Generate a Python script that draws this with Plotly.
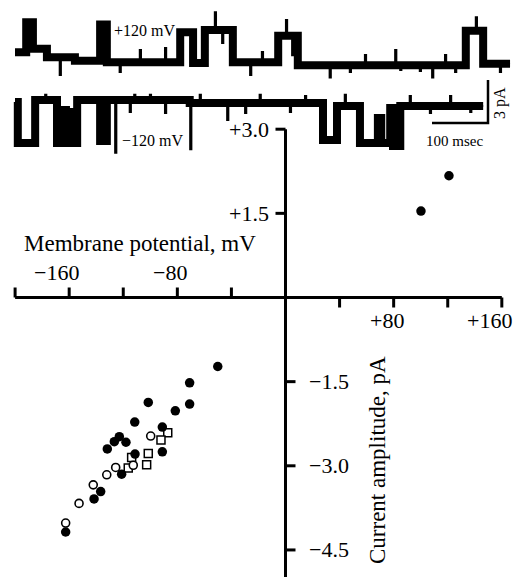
import plotly.graph_objects as go

W, H = 517, 577
FONT = "Liberation Serif"

# ---------------- I-V data (membrane potential mV, current pA) ----------------
filled_mv = [100.2, 120.9, -50.1, -70.9, -70.9, -81.5, -101.5, -111.5, -91.1, -91.1,
             -122.9, -126.6, -118.0, -131.8, -111.3, -121.2, -136.7, -141.6, -162.6]
filled_pa = [1.54, 2.17, -1.23, -1.52, -1.90, -2.02, -1.87, -2.22, -2.31, -2.75,
             -2.48, -2.57, -2.58, -2.70, -2.79, -3.15, -3.46, -3.59, -4.18]

open_circ_mv = [-99.7, -112.6, -125.6, -132.2, -142.2, -152.7, -162.6]
open_circ_pa = [-2.47, -2.99, -3.03, -3.16, -3.34, -3.67, -4.02]

open_sq_mv = [-87.1, -92.1, -101.5, -102.7, -113.8, -116.3]
open_sq_pa = [-2.41, -2.54, -2.78, -2.98, -2.85, -3.04]

# axis ticks
x_ticks_neg = [-200, -160, -120, -80, -40]
x_ticks_pos = [40, 80, 120, 160]
x_tick_labels = {-160: "\u2212160", -80: "\u221280", 80: "+80", 160: "+160"}
y_ticks_pos = [3.0, 1.5]
y_ticks_neg = [-1.5, -3.0, -4.5]
y_tick_labels = {3.0: "+3.0", 1.5: "+1.5", -1.5: "\u22121.5", -3.0: "\u22123.0", -4.5: "\u22124.5"}

# ---------------- single-channel records (time ms, current pA) ----------------
top_t = [0, 20, 32, 57, 107, 152, 164, 295, 318, 339, 389, 470, 505, 805, 836]
top_i = [0.75, 2.85, 1.0, 0.4, 0.15, 2.7, 0.05, 2.15, 0.0, 2.3, 0.05, 1.9, -0.15, 2.25, -0.05]
top_end = 884
top_spike_t = [80, 187, 223, 268, 357, 370, 420, 441, 484, 495, 562, 598, 625, 679,
               688, 723, 745, 768, 786, 823, 866]
top_spike_i = [-0.84, -0.63, 0.91, 1.05, 3.55, 1.4, -0.84, 0.77, 3.0, 0.55, -1.0, -0.63, 0.56, 0.91,
               -0.49, -0.56, -1.0, 0.56, -0.63, 3.2, -0.63]

bot_t = [0, 5, 36, 75, 87, 91, 95, 98, 111, 152, 164, 312, 550, 575, 616, 648, 654, 670, 675, 688]
bot_i = [0.0, -2.87, 0.14, -2.87, -0.56, -2.87, -0.7, -2.87, 0.14, -2.73, 0.14, -0.07,
         -2.66, -0.28, -2.87, -1.12, -2.87, -0.42, -3.08, -0.28]
bot_end = 836
bot_spike_t = [54, 159, 179, 205, 213, 241, 268, 313, 330, 379, 411, 437, 491, 518,
               589, 705, 741, 777, 813]
bot_spike_i = [0.5, -1.1, -3.55, -0.7, 0.5, 0.5, -0.77, -3.3, 0.5, -1.25, -0.77, 0.5, -0.7, 0.42,
               0.5, 0.42, -0.77, 0.42, -0.7]

scale_ms = 100
scale_pa = 3

# ---------------- geometry (pixel calibration) ----------------
X0, XS = 285.5, 1.352     # px of 0 mV, px per mV
Y0, YS = 297.5, 56.1      # px of 0 pA, px per pA
xr = [-X0 / XS, (W - X0) / XS]
yr = [-(H - Y0) / YS, Y0 / YS]

T0, TS = 15, 0.56         # trace: px of t=0, px per ms
I0, IS = 102, 14.3        # trace: px of bottom baseline, px per pA
x2r = [-T0 / TS, (W - T0) / TS]
y2r = [-(H - I0) / IS, I0 / IS]
top_offset = (I0 - 63) / IS


def steps(ts, lv, end, sp_t, sp_i, dur=1.8):
    ev = list(zip(ts, lv))
    for st, si in zip(sp_t, sp_i):
        base = [l for t, l in zip(ts, lv) if t <= st][-1]
        ev.append((st, si))
        ev.append((st + dur, base))
    ev.sort(key=lambda e: e[0])
    xs = [e[0] for e in ev] + [end]
    ys = [e[1] for e in ev] + [ev[-1][1]]
    return xs, ys


fig = go.Figure()

# records: thick band + thin detail line
for ts, lv, end, st, si, off in [
    (top_t, top_i, top_end, top_spike_t, top_spike_i, top_offset),
    (bot_t, bot_i, bot_end, bot_spike_t, bot_spike_i, 0.0),
]:
    bx = ts + [end]
    by = [v + off for v in lv] + [lv[-1] + off]
    fig.add_trace(go.Scatter(x=bx, y=by, mode="lines", line=dict(color="black", width=8, shape="hv"),
                             xaxis="x2", yaxis="y2", hoverinfo="skip", showlegend=False))
    dx, dy = steps(ts, lv, end, st, si)
    fig.add_trace(go.Scatter(x=dx, y=[v + off for v in dy], mode="lines",
                             line=dict(color="black", width=2.2, shape="hv"),
                             xaxis="x2", yaxis="y2", hoverinfo="skip", showlegend=False))

# scale bar
sb_t = (488 - T0) / TS
sb_i = (I0 - 123) / IS
fig.add_trace(go.Scatter(x=[sb_t - scale_ms, sb_t, sb_t], y=[sb_i, sb_i, sb_i + scale_pa],
                         mode="lines", line=dict(color="black", width=2.5),
                         xaxis="x2", yaxis="y2", hoverinfo="skip", showlegend=False))

# I-V markers
fig.add_trace(go.Scatter(x=open_sq_mv, y=open_sq_pa, mode="markers",
                         marker=dict(symbol="square", size=8, color="white",
                                     line=dict(color="black", width=1.5)), showlegend=False))
fig.add_trace(go.Scatter(x=filled_mv, y=filled_pa, mode="markers",
                         marker=dict(symbol="circle", size=9.5, color="black",
                                     line=dict(color="black", width=0)), showlegend=False))
fig.add_trace(go.Scatter(x=open_circ_mv, y=open_circ_pa, mode="markers",
                         marker=dict(symbol="circle", size=8, color="white",
                                     line=dict(color="black", width=1.6)), showlegend=False))

shapes = []
LW = 3
# axes lines
shapes.append(dict(type="line", xref="x", yref="y", x0=min(x_ticks_neg), x1=max(x_ticks_pos),
                   y0=0, y1=0, line=dict(color="black", width=LW)))
shapes.append(dict(type="line", xref="x", yref="y", x0=0, x1=0, y0=max(y_ticks_pos), y1=yr[0] - 0.5,
                   line=dict(color="black", width=LW)))
tl_y = 10 / YS
tl_x = 10 / XS
for v in x_ticks_neg:
    shapes.append(dict(type="line", xref="x", yref="y", x0=v, x1=v, y0=0, y1=tl_y,
                       line=dict(color="black", width=LW)))
for v in x_ticks_pos:
    shapes.append(dict(type="line", xref="x", yref="y", x0=v, x1=v, y0=0, y1=-tl_y,
                       line=dict(color="black", width=LW)))
for v in y_ticks_pos:
    shapes.append(dict(type="line", xref="x", yref="y", x0=-tl_x, x1=0, y0=v, y1=v,
                       line=dict(color="black", width=LW)))
for v in y_ticks_neg:
    shapes.append(dict(type="line", xref="x", yref="y", x0=0, x1=tl_x, y0=v, y1=v,
                       line=dict(color="black", width=LW)))

ann = []
TF = dict(family=FONT, size=22, color="black")
for v, t in x_tick_labels.items():
    ann.append(dict(x=v, y=0, xref="x", yref="y", text=t, showarrow=False, font=TF,
                    xanchor="right", yanchor="middle", xshift=12,
                    yshift=25 if v < 0 else -23))
for v, t in y_tick_labels.items():
    if v > 0:
        ann.append(dict(x=0, y=v, xref="x", yref="y", text=t, showarrow=False, font=TF,
                        xanchor="right", yanchor="middle", xshift=-15))
    else:
        ann.append(dict(x=0, y=v, xref="x", yref="y", text=t, showarrow=False, font=TF,
                        xanchor="left", yanchor="middle", xshift=21))

LF = dict(family=FONT, size=23, color="black")
ann.append(dict(x=140 / W, y=1 - 243 / H, xref="paper", yref="paper", text="Membrane potential, mV",
                showarrow=False, font=LF, xanchor="center", yanchor="middle"))
ann.append(dict(x=377 / W, y=1 - 460 / H, xref="paper", yref="paper", text="Current amplitude, pA",
                showarrow=False, font=LF, xanchor="center", yanchor="middle", textangle=-90))

SF = dict(family=FONT, size=16, color="black")
ann.append(dict(x=112 / W, y=1 - 31 / H, xref="paper", yref="paper", text="+120 mV",
                showarrow=False, font=SF, xanchor="left", yanchor="middle"))
ann.append(dict(x=120 / W, y=1 - 141 / H, xref="paper", yref="paper", text="\u2212120 mV",
                showarrow=False, font=SF, xanchor="left", yanchor="middle"))
ann.append(dict(x=454 / W, y=1 - 141 / H, xref="paper", yref="paper", text="100 msec",
                showarrow=False, font=dict(family=FONT, size=15, color="black"),
                xanchor="center", yanchor="middle"))
ann.append(dict(x=500 / W, y=1 - 103 / H, xref="paper", yref="paper", text="3 pA",
                showarrow=False, font=SF, xanchor="center", yanchor="middle", textangle=-90))

hidden = dict(visible=False, showgrid=False, zeroline=False, fixedrange=True)
fig.update_layout(
    width=W, height=H, margin=dict(l=0, r=0, t=0, b=0, pad=0),
    paper_bgcolor="white", plot_bgcolor="white", showlegend=False,
    xaxis=dict(range=xr, domain=[0, 1], **hidden),
    yaxis=dict(range=yr, domain=[0, 1], **hidden),
    xaxis2=dict(range=x2r, overlaying="x", anchor="y2", **hidden),
    yaxis2=dict(range=y2r, overlaying="y", anchor="x2", **hidden),
    shapes=shapes, annotations=ann,
)

fig.write_html("out.html")
